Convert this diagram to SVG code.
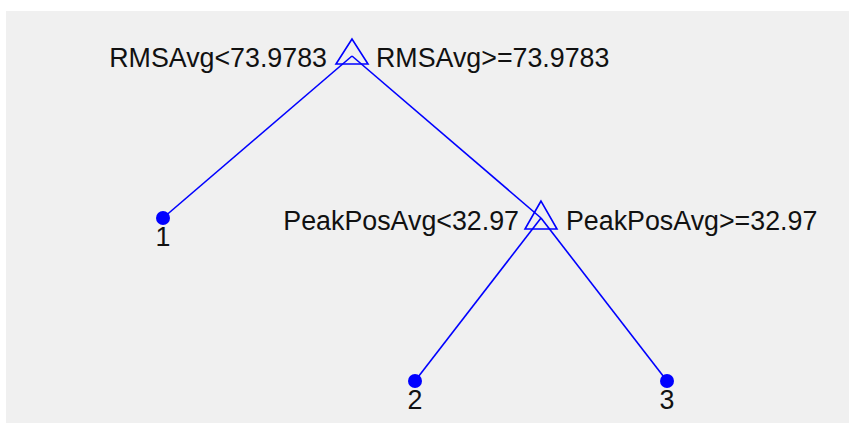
<svg xmlns="http://www.w3.org/2000/svg" width="849" height="423" viewBox="0 0 849 423">
<style>
.e{stroke:#0000FF;stroke-width:1.6;fill:none}
.tri{stroke:#0000FF;stroke-width:1.6;fill:none}
.leaf{fill:#0000FF}
text{font-family:"Liberation Sans",Arial,sans-serif;font-size:26.8px;fill:#111}
</style>
<rect x="0" y="0" width="849" height="423" fill="#ffffff"/>
<rect x="6" y="11" width="843" height="412" fill="#F0F0F0"/>
<g id="connectors">
<line class="e" x1="352" y1="56" x2="163" y2="218"/>
<line class="e" x1="352" y1="56" x2="541" y2="218"/>
<line class="e" x1="541" y1="218" x2="415" y2="381"/>
<line class="e" x1="541" y1="218" x2="667" y2="381"/>
</g>
<g id="node1">
<polygon class="tri" points="352,39 336,64 368,64"/>
<text x="327" y="67" text-anchor="end">RMSAvg&lt;73.9783</text>
<text x="376" y="67">RMSAvg&gt;=73.9783</text>
</g>
<g id="node2">
<polygon class="tri" points="541,201 525,229 557,229"/>
<text x="519" y="230" text-anchor="end">PeakPosAvg&lt;32.97</text>
<text x="566" y="230">PeakPosAvg&gt;=32.97</text>
</g>
<g id="leaf1">
<circle class="leaf" cx="163" cy="218" r="7"/>
<text x="163" y="246" text-anchor="middle">1</text>
</g>
<g id="leaf2">
<circle class="leaf" cx="415" cy="381" r="7"/>
<text x="415" y="409" text-anchor="middle">2</text>
</g>
<g id="leaf3">
<circle class="leaf" cx="667" cy="381" r="7"/>
<text x="667" y="409" text-anchor="middle">3</text>
</g>
</svg>
